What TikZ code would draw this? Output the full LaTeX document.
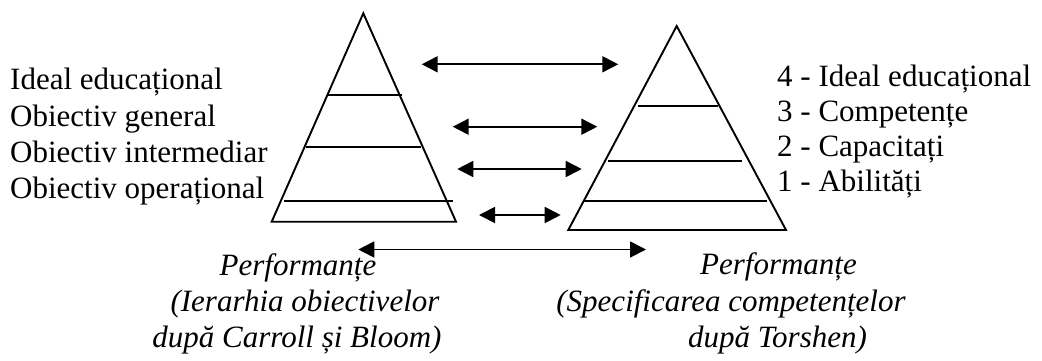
\documentclass[tikz,border=0pt]{standalone}
\usepackage{fontspec}
\setmainfont{Liberation Serif}
\usetikzlibrary{arrows.meta}
\begin{document}
\begin{tikzpicture}[x=1pt,y=-1pt,
  pyr/.style={line width=1.9pt, line join=miter},
  lvl/.style={line width=1.9pt},
  lbl/.style={anchor=base west,inner sep=0pt,font=\fontsize{31}{36}\selectfont},
  capt/.style={anchor=base,inner sep=0pt,font=\fontsize{31}{36}\selectfont\itshape},
  link/.style={{Triangle[length=16pt,width=16pt]}-{Triangle[length=16pt,width=16pt]}, line width=1.8pt}]
\useasboundingbox (0,0) rectangle (1042,360);

% left pyramid
\coordinate (LA) at (363.3,13.3);
\coordinate (LB) at (271.7,221.7);
\coordinate (LC) at (456,221.7);
\draw[pyr] (LA) -- (LB) -- (LC) -- cycle;
\draw[lvl] (328.3,95) -- (401.7,95);
\draw[lvl] (306,147.3) -- (421,147.3);
\draw[lvl] (284,201) -- (452.7,201);

% right pyramid
\coordinate (RA) at (676.7,26);
\coordinate (RB) at (568.3,230);
\coordinate (RC) at (786,230);
\draw[pyr] (RA) -- (RB) -- (RC) -- cycle;
\draw[lvl] (638.3,105.7) -- (718.3,105.7);
\draw[lvl] (608.3,160.7) -- (741.7,160.7);
\draw[lvl] (582.7,201) -- (767.3,201);

% arrow end points
\coordinate (a1l) at (421.7,64.3);  \coordinate (a1r) at (618.3,64.3);
\coordinate (a2l) at (452.7,126.7); \coordinate (a2r) at (597.3,126.7);
\coordinate (a3l) at (457.3,169);   \coordinate (a3r) at (581.7,169);
\coordinate (a4l) at (479,215);     \coordinate (a4r) at (560.7,215);
\coordinate (a5l) at (358.3,249.5); \coordinate (a5r) at (646,249.5);
\draw[link] (a1l) -- (a1r);
\draw[link] (a2l) -- (a2r);
\draw[link] (a3l) -- (a3r);
\draw[link] (a4l) -- (a4r);
\draw[link] (a5l) -- (a5r);

% left labels
\node[lbl] (l4) at (10,89) {Ideal educațional};
\node[lbl] (l3) at (10,126) {Obiectiv general};
\node[lbl] (l2) at (10,162) {Obiectiv intermediar};
\node[lbl] (l1) at (10,198) {Obiectiv operațional};

% right labels
\node[lbl] (r4) at (777,86) {4 - Ideal educațional};
\node[lbl] (r3) at (777,121) {3 - Competențe};
\node[lbl] (r2) at (777,156) {2 - Capacitați};
\node[lbl] (r1) at (777,191) {1 - Abilități};

% bottom captions
\node[capt] (bl1) at (298,275) {Performanțe};
\node[capt] (bl2) at (305,311) {(Ierarhia obiectivelor};
\node[capt] (bl3) at (297,347) {după Carroll și Bloom)};
\node[capt] (br1) at (778.5,274) {Performanțe};
\node[capt] (br2) at (731,311) {(Specificarea competențelor};
\node[capt] (br3) at (777.5,347) {după Torshen)};
\end{tikzpicture}
\end{document}
